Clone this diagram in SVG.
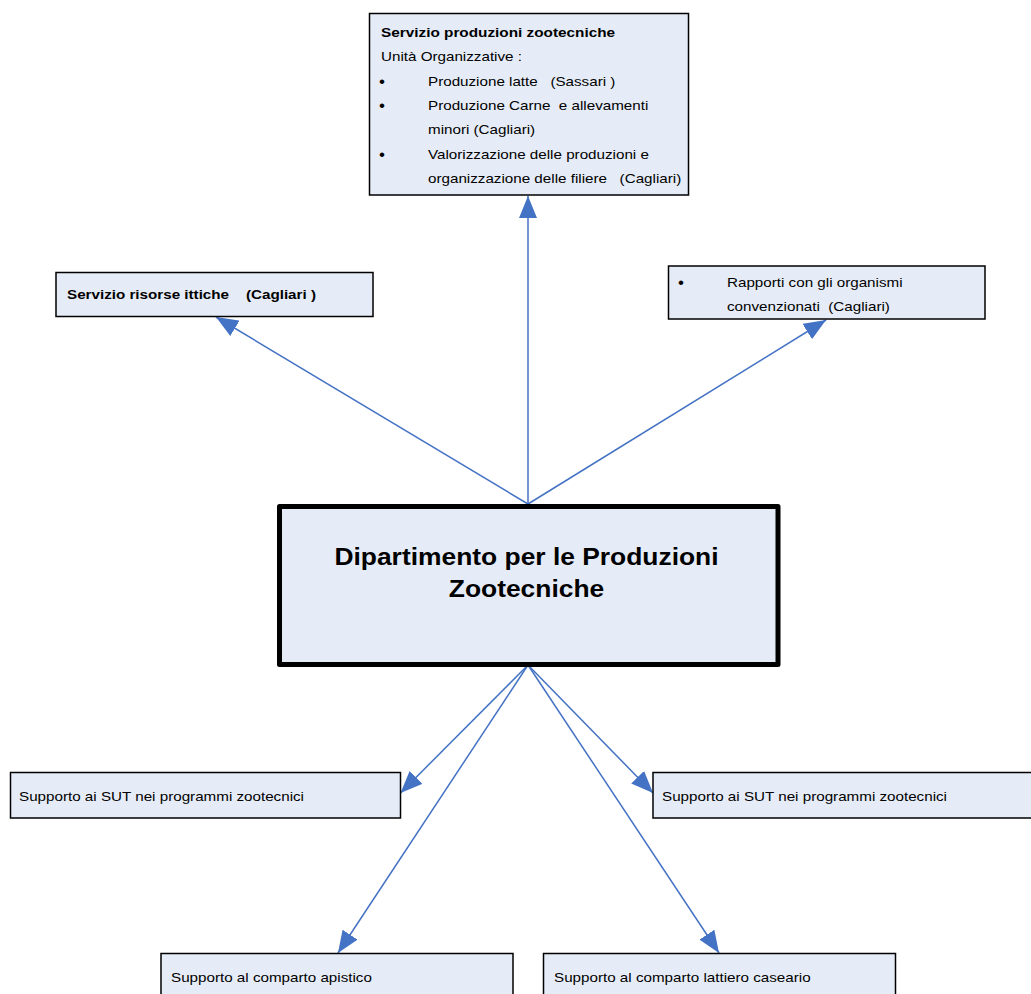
<svg xmlns="http://www.w3.org/2000/svg" width="1031" height="994" viewBox="0 0 1031 994">
<style>
.box{fill:#E6ECF7;stroke:#000;stroke-width:1.5}
.main{fill:#E6ECF7;stroke:#000;stroke-width:5;stroke-linejoin:round}
text{font-family:"Liberation Sans",Arial,sans-serif;font-size:13px;fill:#000;white-space:pre}
.b{font-weight:bold}
.bl{font-size:17px}
.big{font-size:24px;font-weight:bold;text-anchor:middle}
.conn line{stroke:#4472C4;stroke-width:1.5;marker-end:url(#ah)}
</style>
<defs>
<marker id="ah" viewBox="0 0 22 18" refX="22" refY="9" markerWidth="22" markerHeight="18" markerUnits="userSpaceOnUse" orient="auto">
<path d="M0,0 L22,9 L0,18 z" fill="#4472C4"/>
</marker>
</defs>
<rect width="1031" height="994" fill="#fff"/>
<g class="conn" id="connectors">
<line x1="528" y1="504" x2="528" y2="196"/>
<line x1="528" y1="504" x2="216" y2="317"/>
<line x1="528" y1="504" x2="826" y2="320"/>
<line x1="528" y1="665" x2="400.5" y2="793"/>
<line x1="528" y1="665" x2="653" y2="793"/>
<line x1="528" y1="665" x2="338" y2="953"/>
<line x1="528" y1="665" x2="719" y2="953"/>
</g>
<g id="node-main">
<rect class="main" x="279.5" y="506.5" width="498.5" height="158"/>
<text class="big" transform="translate(526.5,565) scale(1.1,1)">Dipartimento per le Produzioni</text>
<text class="big" transform="translate(526.5,597) scale(1.1,1)">Zootecniche</text>
</g>
<g id="node-servizio-produzioni">
<rect class="box" x="369.5" y="13.5" width="319" height="181.5"/>
<text class="b" transform="translate(381,37) scale(1.18,1)">Servizio produzioni zootecniche</text>
<text transform="translate(381,61.3) scale(1.17,1)">Unità Organizzative :</text>
<text class="bl" transform="translate(379,87)">•</text>
<text transform="translate(428,85.6) scale(1.17,1)">Produzione latte   (Sassari )</text>
<text class="bl" transform="translate(379,111.3)">•</text>
<text transform="translate(428,109.9) scale(1.17,1)">Produzione Carne  e allevamenti</text>
<text transform="translate(428,134.2) scale(1.17,1)">minori (Cagliari)</text>
<text class="bl" transform="translate(379,159.9)">•</text>
<text transform="translate(428,158.5) scale(1.17,1)">Valorizzazione delle produzioni e</text>
<text transform="translate(428,182.8) scale(1.17,1)">organizzazione delle filiere   (Cagliari)</text>
</g>
<g id="node-risorse-ittiche">
<rect class="box" x="56" y="272.5" width="317" height="44"/>
<text class="b" transform="translate(67,299) scale(1.17,1)">Servizio risorse ittiche    (Cagliari )</text>
</g>
<g id="node-rapporti">
<rect class="box" x="668.5" y="266" width="316.5" height="53"/>
<text class="bl" transform="translate(678,288.4)">•</text>
<text transform="translate(727,287) scale(1.17,1)">Rapporti con gli organismi</text>
<text transform="translate(727,311) scale(1.17,1)">convenzionati  (Cagliari)</text>
</g>
<g id="node-sut-left">
<rect class="box" x="10.5" y="772.5" width="390" height="45.5"/>
<text transform="translate(19,801) scale(1.17,1)">Supporto ai SUT nei programmi zootecnici</text>
</g>
<g id="node-sut-right">
<rect class="box" x="653" y="772.5" width="400" height="45.5"/>
<text transform="translate(662,801) scale(1.17,1)">Supporto ai SUT nei programmi zootecnici</text>
</g>
<g id="node-apistico">
<rect class="box" x="161" y="953.5" width="352" height="60"/>
<text transform="translate(171,982) scale(1.17,1)">Supporto al comparto apistico</text>
</g>
<g id="node-lattiero">
<rect class="box" x="543.5" y="953.5" width="352" height="60"/>
<text transform="translate(554,982) scale(1.17,1)">Supporto al comparto lattiero caseario</text>
</g>
</svg>
